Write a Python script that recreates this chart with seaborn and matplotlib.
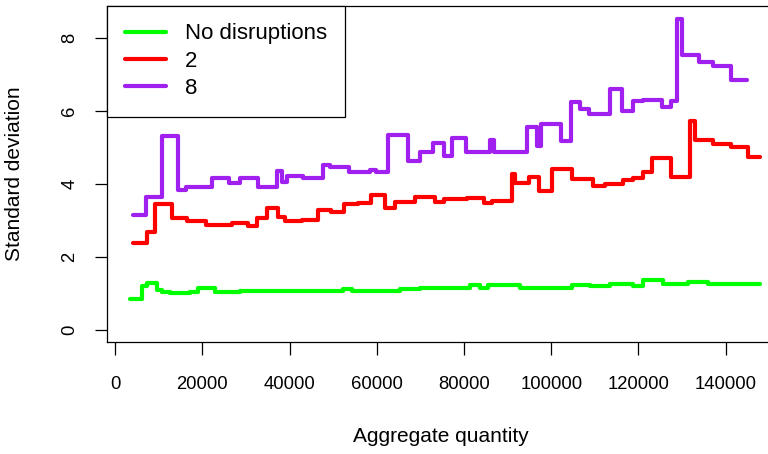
import matplotlib
matplotlib.use("Agg")
import matplotlib.pyplot as plt
import seaborn as sns
import pandas as pd

# Step series: each value holds from its x until the next x
x_none = [3500, 6100, 7200, 9500, 10700, 12600, 17200, 19100, 22900, 28600,
          52300, 54200, 65300, 69900, 76800, 81400, 83700, 85600, 92800,
          104700, 108900, 113500, 118800, 121100, 125700, 131400, 136000,
          141000, 147800]
sd_none = [0.86, 1.21, 1.28, 1.09, 1.04, 1.01, 1.05, 1.14, 1.05, 1.08,
           1.11, 1.07, 1.13, 1.16, 1.14, 1.22, 1.14, 1.23, 1.16,
           1.23, 1.21, 1.25, 1.20, 1.36, 1.25, 1.30, 1.25,
           1.27, 1.27]

x_two = [4000, 7200, 9100, 13000, 16500, 20800, 26700, 30500, 32500, 34900,
         37400, 38900, 42800, 46600, 49500, 52500, 55800, 58600, 61900,
         64200, 68800, 73400, 75300, 80600, 84700, 86400, 90900, 91700,
         95000, 97300, 100100, 104700, 109700, 112300, 116400, 118800,
         121100, 123100, 127500, 131800, 133000, 137000, 141200, 145200,
         148000]
sd_two = [2.39, 2.69, 3.44, 3.06, 2.99, 2.87, 2.92, 2.85, 3.05, 3.35,
          3.08, 2.99, 3.02, 3.29, 3.22, 3.44, 3.47, 3.70, 3.33,
          3.49, 3.64, 3.51, 3.57, 3.61, 3.47, 3.53, 4.28, 4.01,
          4.19, 3.81, 4.40, 4.12, 3.93, 3.99, 4.10, 4.17,
          4.33, 4.70, 4.19, 5.71, 5.19, 5.08, 5.01, 4.74,
          4.74]

x_eight = [4000, 7000, 10800, 14300, 16200, 22100, 26200, 28600, 32700,
           37000, 38200, 39300, 43100, 47700, 49300, 53700, 58400, 59800,
           62600, 67200, 69900, 73000, 75400, 77300, 80400, 86000, 86900,
           94400, 96700, 97600, 102300, 104500, 106600, 108700, 113500,
           116300, 118800, 121100, 125500, 127500, 128800, 129900, 134000,
           137000, 141200, 144800]
sd_eight = [3.15, 3.64, 5.31, 3.83, 3.90, 4.17, 4.01, 4.17, 3.92,
            4.36, 4.04, 4.22, 4.16, 4.52, 4.45, 4.33, 4.38, 4.31,
            5.33, 4.61, 4.86, 5.11, 4.77, 5.25, 4.88, 5.21, 4.88,
            5.54, 5.04, 5.63, 5.16, 6.23, 6.04, 5.91, 6.58,
            5.98, 6.26, 6.29, 6.11, 6.26, 8.51, 7.53, 7.34,
            7.21, 6.84, 6.84]

series_names = ["No disruptions", "2", "8"]
series_colors = ["#00FF00", "#FF0000", "#A020F0"]

sns.set_style("ticks")
plt.rcParams["font.family"] = ["Liberation Sans", "DejaVu Sans"]
plt.rcParams["text.color"] = "black"
plt.rcParams["axes.labelcolor"] = "black"

fig = plt.figure(figsize=(7.68, 4.54), dpi=100)
ax = fig.add_axes([107.3 / 768, (454 - 341.7) / 454,
                   (774.7 - 107.3) / 768, (341.7 - 5.7) / 454])

for name, xs, ys, col in zip(series_names, [x_none, x_two, x_eight],
                             [sd_none, sd_two, sd_eight], series_colors):
    df = pd.DataFrame({"q": xs, "sd": ys})
    sns.lineplot(data=df, x="q", y="sd", ax=ax, color=col, lw=3.0,
                 drawstyle="steps-post", label=name, errorbar=None,
                 solid_capstyle="round", solid_joinstyle="round")

ax.set_xlim(-1810, 151260)
ax.set_ylim(-0.32, 8.87)
ax.set_xticks([0, 20000, 40000, 60000, 80000, 100000, 120000, 140000])
ax.set_xticklabels(["0", "20000", "40000", "60000", "80000", "100000",
                    "120000", "140000"])
ax.set_yticks([0, 2, 4, 6, 8])
ax.set_yticklabels(["0", "2", "4", "6", "8"], rotation=90, va="center")

for sp in ax.spines.values():
    sp.set_visible(True)
    sp.set_color("black")
    sp.set_linewidth(0.9)

ax.tick_params(axis="both", direction="out", length=9, width=0.9,
               colors="black", labelcolor="black", labelsize=13.3)
ax.tick_params(axis="x", pad=16)
ax.tick_params(axis="y", pad=12)

ax.set_xlabel("Aggregate quantity", fontsize=15, va="center", color="black")
ax.set_ylabel("Standard deviation", fontsize=15, va="center", color="black")
ax.xaxis.set_label_coords(0.5, (341.7 - 436) / 336)
ax.yaxis.set_label_coords((15 - 107.3) / 667.4, (341.7 - 173.3) / 336)

leg = ax.legend(loc="upper left", bbox_to_anchor=(0, 1), borderaxespad=0,
                frameon=True, fancybox=False, edgecolor="black",
                framealpha=1, fontsize=16, handlelength=1.85,
                handletextpad=0.85, labelspacing=0.28, borderpad=0.8)
leg.get_frame().set_linewidth(0.9)
for text in leg.get_texts():
    text.set_color("black")
for line in leg.get_lines():
    line.set_linewidth(3.0)
    line.set_solid_capstyle("round")

fig.savefig("out.png", dpi=100)
